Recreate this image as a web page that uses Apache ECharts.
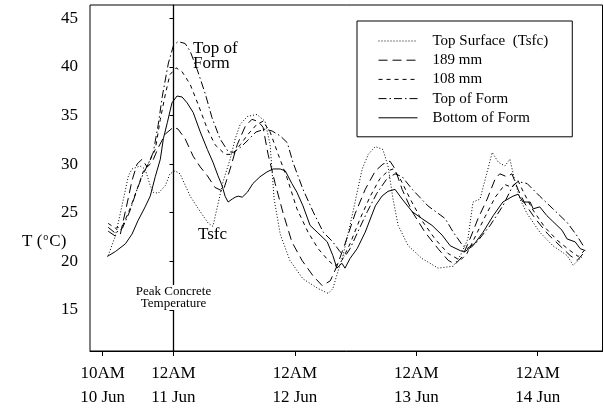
<!DOCTYPE html>
<html>
<head>
<meta charset="utf-8">
<script src="https://cdn.jsdelivr.net/npm/echarts@6/dist/echarts.min.js"></script>
<style>html,body{margin:0;padding:0;background:#fff}#c{width:604px;height:410px}</style>
</head>
<body>
<div id="c"></div>
<script>
// x = hours after 12AM 11 Jun, y = temperature (°C)
var seriesNames = ['Top Surface  (Tsfc)', '189 mm', '108 mm', 'Top of Form', 'Bottom of Form'];
var tickHours = [-14, 0, 24, 48, 72];
var tickLabels = ['10AM\n10 Jun', '12AM\n11 Jun', '12AM\n12 Jun', '12AM\n13 Jun', '12AM\n14 Jun'];
var yTicks = [15, 20, 25, 30, 35, 40, 45];
var peakHour = 0;

var topSurface = [[-12.9,20.6],[-11.5,22.6],[-10.1,25.9],[-8.9,28.8],[-8.2,29.5],[-6.6,29.8],[-5.6,29.5],[-4.6,27.8],[-4.0,27.1],[-3.0,27.0],[-1.6,27.8],[-0.7,29.0],[0.3,29.3],[1.3,29.0],[3.3,26.7],[5.3,25.1],[6.9,23.9],[7.8,23.6],[8.8,25.9],[9.8,28.2],[11.2,30.5],[12.2,32.6],[13.2,34.1],[14.6,34.9],[16.5,35.1],[18.1,34.4],[19.1,32.0],[19.9,26.4],[21.1,22.8],[23.0,20.1],[25.6,18.2],[28.6,17.2],[30.6,16.7],[31.5,17.2],[32.3,18.6],[33.5,20.6],[34.9,23.7],[36.3,27.1],[37.3,29.5],[38.5,31.0],[39.9,31.8],[41.4,31.5],[42.4,29.8],[43.4,26.4],[44.4,23.7],[46.4,21.6],[49.1,20.3],[52.3,19.3],[55.3,19.5],[56.7,20.6],[58.2,22.3],[59.2,26.1],[60.6,26.4],[62.0,29.2],[63.0,31.2],[64.2,30.2],[65.5,29.8],[66.5,30.5],[67.5,28.2],[68.5,26.4],[69.9,24.9],[72.4,23.0],[75.0,21.6],[77.8,20.6],[79.0,19.6],[80.0,20.1],[81.0,20.6]];
var mm189 = [[-12.9,23.1],[-11.5,22.6],[-10.5,22.8],[-9.1,26.1],[-8.2,28.3],[-7.2,30.0],[-6.2,30.5],[-5.2,29.7],[-4.2,30.2],[-3.0,31.7],[-1.6,33.1],[0.0,33.8],[0.9,33.6],[2.3,32.6],[3.9,30.8],[5.3,29.7],[6.7,28.8],[8.2,27.6],[9.8,27.2],[11.2,29.5],[12.6,32.0],[14.2,33.9],[15.5,34.6],[16.7,34.4],[17.7,33.8],[18.7,31.0],[20.1,28.0],[21.7,24.9],[23.4,22.0],[25.4,20.1],[27.6,18.5],[29.4,17.5],[31.0,18.0],[32.3,19.5],[33.9,21.8],[35.9,24.9],[37.9,27.4],[39.9,29.3],[41.4,30.0],[42.8,30.3],[43.8,29.5],[45.2,27.4],[47.2,25.1],[49.7,23.0],[52.3,21.3],[54.3,20.1],[55.7,19.7],[57.1,20.5],[58.6,22.3],[60.2,24.4],[62.0,26.4],[63.6,28.5],[64.5,29.0],[65.9,28.7],[66.9,29.0],[68.1,27.4],[69.5,25.9],[71.5,24.4],[74.0,22.8],[76.4,21.6],[78.4,20.6],[79.8,20.1],[81.0,20.8]];
var mm108 = [[-12.9,23.9],[-11.5,23.4],[-10.1,23.6],[-8.6,25.4],[-7.2,27.4],[-6.0,29.2],[-5.0,30.0],[-3.6,31.5],[-2.6,34.6],[-1.6,37.2],[-0.7,39.2],[0.5,39.9],[1.7,39.5],[3.3,38.2],[4.9,36.1],[6.7,33.6],[8.2,32.0],[10.2,31.0],[11.8,31.0],[13.2,32.0],[14.8,33.1],[16.5,34.1],[17.7,34.4],[19.1,33.3],[20.7,31.0],[22.5,28.5],[24.4,25.4],[26.6,23.0],[28.6,21.3],[30.6,20.1],[31.9,19.5],[33.3,20.1],[34.9,21.8],[36.9,24.4],[38.9,26.7],[40.8,28.5],[42.4,29.3],[43.4,29.5],[44.8,28.5],[46.8,26.4],[49.1,24.2],[51.7,22.3],[54.3,20.8],[56.7,20.1],[58.0,20.8],[59.6,22.5],[61.6,24.6],[63.6,26.6],[65.5,27.9],[66.9,27.6],[68.1,28.3],[69.1,27.2],[70.9,25.4],[73.4,23.5],[76.0,22.1],[78.4,21.1],[80.0,20.5],[81.2,21.1]];
var topForm = [[-12.9,23.5],[-11.5,22.9],[-10.1,23.4],[-8.6,25.2],[-7.2,27.4],[-6.0,29.0],[-5.0,30.0],[-4.0,31.2],[-3.0,34.1],[-2.2,37.0],[-1.0,40.4],[0.0,42.2],[0.9,42.6],[2.3,42.4],[3.3,41.6],[4.7,39.7],[6.3,37.2],[7.6,34.8],[9.2,32.6],[10.8,31.3],[11.8,31.2],[13.2,31.7],[14.8,32.5],[16.3,33.3],[18.1,33.6],[19.5,33.4],[21.1,32.9],[22.5,32.2],[23.6,30.2],[25.6,27.4],[27.6,25.1],[29.6,23.0],[31.5,22.0],[32.9,21.0],[33.9,20.5],[34.9,21.3],[36.5,23.1],[38.3,25.1],[40.2,27.0],[42.2,28.5],[43.8,29.0],[45.2,28.7],[47.2,27.4],[50.3,25.7],[53.7,24.4],[55.3,23.0],[57.2,21.6],[58.0,21.3],[60.0,22.0],[62.6,23.7],[65.1,25.7],[67.1,27.8],[68.1,28.2],[69.9,28.0],[72.4,26.7],[75.0,25.4],[77.8,24.0],[79.8,22.6],[81.0,21.6]];
var bottomForm = [[-13.1,20.5],[-11.5,21.0],[-9.5,21.8],[-8.2,22.8],[-7.0,24.2],[-5.6,25.6],[-4.6,26.7],[-3.6,28.7],[-2.6,30.5],[-2.0,32.6],[-1.2,34.3],[-0.3,36.3],[0.7,37.0],[1.7,36.9],[2.7,36.3],[3.9,35.3],[5.3,33.3],[6.7,31.5],[7.8,30.2],[8.8,28.8],[9.6,27.8],[10.2,26.7],[10.8,26.1],[11.6,26.4],[12.2,26.6],[12.8,26.7],[13.6,26.6],[14.6,27.1],[15.7,28.0],[17.1,28.7],[18.5,29.2],[19.7,29.5],[21.1,29.5],[22.1,29.3],[23.4,28.0],[24.4,27.1],[25.6,25.7],[27.0,23.7],[28.4,23.0],[30.4,22.0],[31.5,20.6],[32.3,19.3],[33.3,19.8],[33.9,19.3],[34.9,20.3],[36.3,21.3],[37.9,23.0],[39.9,25.7],[41.2,26.7],[42.4,27.2],[43.8,27.4],[45.2,26.4],[47.2,25.1],[49.1,24.4],[51.1,23.7],[53.1,22.7],[54.7,21.6],[56.7,21.1],[57.6,21.0],[59.2,21.6],[61.2,23.0],[63.2,24.7],[65.1,26.1],[67.1,26.7],[68.1,26.9],[69.1,26.1],[70.5,26.1],[71.1,25.4],[72.4,25.6],[73.8,24.7],[75.0,24.1],[76.8,23.2],[77.8,22.3],[79.4,22.0],[80.4,21.3],[81.4,21.1]];

var seriesData = [topSurface, mm189, mm108, topForm, bottomForm];
var dashes = [[1, 2], [9, 5], [4, 4], [8, 3, 1.5, 3], 'solid'];
var FONT = 'Liberation Serif';

var chart = echarts.init(document.getElementById('c'), null, {renderer: 'canvas'});
var series = seriesNames.map(function (n, i) {
  var s = {
    name: n, type: 'line', data: seriesData[i], symbol: 'none', showSymbol: false,
    smooth: false, z: 3,
    itemStyle: {color: '#000'},
    lineStyle: {color: '#000', width: 1, type: dashes[i]}
  };
  if (i === 0) {
    s.markLine = {
      silent: true, symbol: 'none', animation: false,
      label: {show: false},
      lineStyle: {color: '#000', width: 1.3, type: 'solid'},
      data: [{xAxis: peakHour}]
    };
  }
  return s;
});

chart.setOption({
  animation: false,
  backgroundColor: '#fff',
  grid: {left: 90, right: 1.5, top: 5, bottom: 57, show: true, borderColor: '#000', borderWidth: 1, backgroundColor: 'transparent'},
  legend: {
    orient: 'vertical', left: 357, top: 21,
    itemWidth: 39, itemHeight: 14, itemGap: 4.2,
    padding: [12.5, 24, 11.5, 21],
    borderColor: '#000', borderWidth: 1, backgroundColor: '#fff',
    textStyle: {fontFamily: FONT, fontSize: 15, lineHeight: 15, color: '#000', padding: [0, 0, 0, 10]},
    itemStyle: {color: 'rgba(0,0,0,0)', borderWidth: 0, opacity: 0},
    lineStyle: {width: 1},
    data: seriesNames
  },
  xAxis: {
    type: 'value', min: -16.5, max: 84.8,
    axisLine: {show: true, onZero: false, lineStyle: {color: '#000', width: 1}},
    axisTick: {show: true, inside: false, length: 5, customValues: tickHours, lineStyle: {color: '#000'}},
    axisLabel: {
      customValues: tickHours, margin: 11, color: '#000', fontFamily: FONT, fontSize: 17, lineHeight: 24,
      formatter: function (v) { var k = tickHours.indexOf(v); return k >= 0 ? tickLabels[k] : ''; }
    },
    splitLine: {show: false}
  },
  yAxis: {
    type: 'value', min: 10.78, max: 46.36,
    axisLine: {show: true, lineStyle: {color: '#000', width: 1}},
    axisTick: {show: true, inside: false, length: 4, customValues: yTicks, lineStyle: {color: '#000'}},
    axisLabel: {customValues: yTicks, margin: 12, color: '#000', fontFamily: FONT, fontSize: 17},
    splitLine: {show: false}
  },
  series: series,
  graphic: [
    {type: 'text', left: 22, top: 232, z: 100,
     style: {text: '{a|T (}{s|o}{a|C)}', rich: {
       a: {fontFamily: FONT, fontSize: 17, lineHeight: 18, fill: '#000', verticalAlign: 'bottom'},
       s: {fontFamily: FONT, fontSize: 10, lineHeight: 18, fill: '#000', verticalAlign: 'top', padding: [0, 1, 0, 1]}
     }}},
    {type: 'text', left: 193, top: 40, z: 100,
     style: {text: 'Top of\nForm', fontFamily: FONT, fontSize: 17, lineHeight: 15, fill: '#000'}},
    {type: 'text', left: 198, top: 226, z: 100,
     style: {text: 'Tsfc', fontFamily: FONT, fontSize: 17, fill: '#000'}},
    {type: 'text', x: 173.5, y: 285, z: 100,
     style: {text: 'Peak Concrete\nTemperature', fontFamily: FONT, fontSize: 13, lineHeight: 11.5, fill: '#000', align: 'center', backgroundColor: '#fff', padding: [1, 0, 1, 0]}}
  ]
});
</script>
</body>
</html>
